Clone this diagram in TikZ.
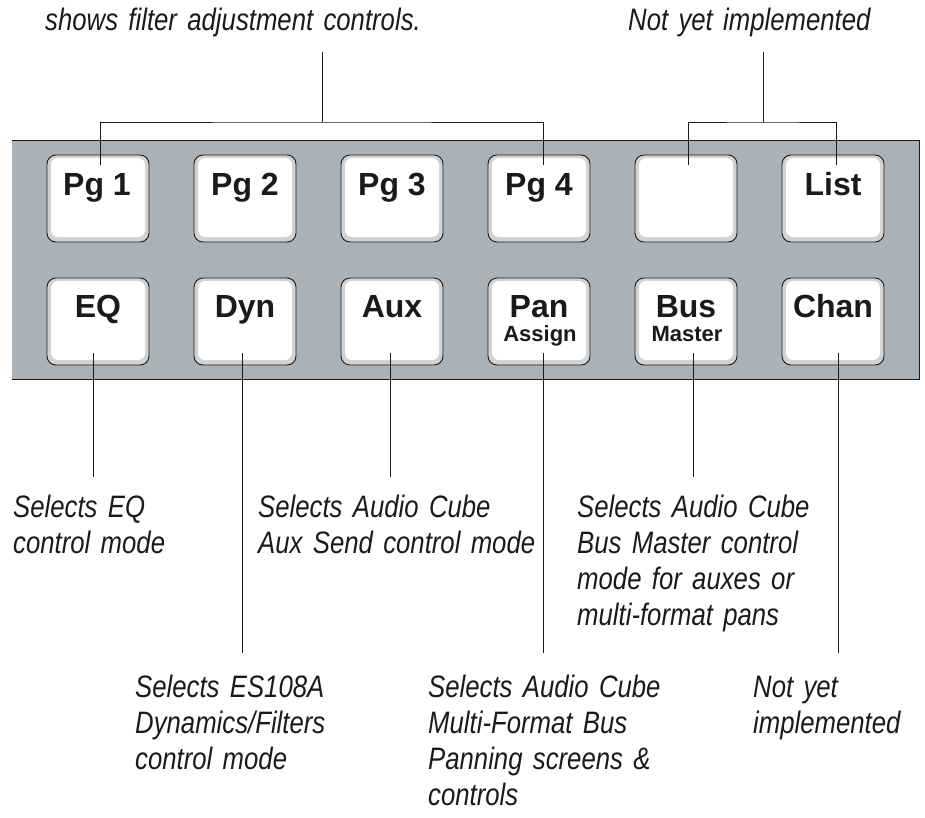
\documentclass[tikz,border=0pt]{standalone}
\usepackage{fontspec}
\setmainfont{Liberation Sans}
\newfontfamily\callfont[FakeStretch=0.83,WordSpace=0.85]{Liberation Sans}
\definecolor{panelgray}{HTML}{A9B1B9}
\definecolor{bevel}{HTML}{D2D2D2}
\definecolor{ink}{HTML}{1A1A1A}
\tikzset{
  btn/.style={draw=ink, line width=0.9pt, fill=bevel, rounded corners=9pt,
    minimum width=102pt, minimum height=87pt, inner sep=0pt,
    path picture={\fill[white, rounded corners=7pt]
      ([xshift=4pt,yshift=-3pt]path picture bounding box.north west) rectangle
      ([xshift=-4pt,yshift=5pt]path picture bounding box.south east);}},
  btntext/.style={anchor=base, inner sep=0pt, text=ink,
    font=\bfseries\fontsize{32}{32}\selectfont},
  btnsmall/.style={anchor=base, inner sep=0pt, text=ink,
    font=\bfseries\fontsize{22}{22}\selectfont},
  callout/.style={anchor=base west, inner sep=0pt, text=ink, align=left,
    text width=460pt, font=\callfont\itshape\fontsize{31}{36.2}\selectfont},
  lead/.style={draw=ink, line width=0.9pt}
}
\begin{document}
\begin{tikzpicture}[x=1pt,y=-1pt]
\useasboundingbox (0,0) rectangle (925,817);
% panel
\fill[panelgray] (12,140) rectangle (919,379);
\draw[draw=ink, line width=1pt] (12,140) -- (919,140) -- (919,379) -- (12,379);
% buttons row 1
\node[btn] (pg1) at (98,198.5) {};
\node[btn] (pg2) at (245,198.5) {};
\node[btn] (pg3) at (392,198.5) {};
\node[btn] (pg4) at (539,198.5) {};
\node[btn] (blank) at (686,198.5) {};
\node[btn] (list) at (833,198.5) {};
% buttons row 2
\node[btn] (eq) at (98,321.5) {};
\node[btn] (dyn) at (245,321.5) {};
\node[btn] (aux) at (392,321.5) {};
\node[btn] (pan) at (539,321.5) {};
\node[btn] (bus) at (686,321.5) {};
\node[btn] (chan) at (833,321.5) {};
% button labels
\node[btntext] (pg1t) at (97,195) {Pg 1};
\node[btntext] (pg2t) at (245,195) {Pg 2};
\node[btntext] (pg3t) at (392,195) {Pg 3};
\node[btntext] (pg4t) at (539,195) {Pg 4};
\node[btntext] (listt) at (833,195) {List};
\node[btntext] (eqt) at (98,317) {EQ};
\node[btntext] (dynt) at (245,317) {Dyn};
\node[btntext] (auxt) at (392,317) {Aux};
\node[btntext] (pant) at (539,317) {Pan};
\node[btnsmall] (assignt) at (540,341) {Assign};
\node[btntext] (bust) at (686,317) {Bus};
\node[btnsmall] (mastert) at (687,341) {Master};
\node[btntext] (chant) at (833,317) {Chan};
% top callouts
\node[callout] (toptxtL) at (45,30) {shows filter adjustment controls.};
\node[callout] (toptxtR) at (628,30) {Not yet implemented};
% bottom callouts
\node[callout] (eqtxt) at (13,517) {Selects EQ\\control mode};
\node[callout] (auxtxt) at (258,517) {Selects Audio Cube\\Aux Send control mode};
\node[callout] (bustxt) at (577,517) {Selects Audio Cube\\Bus Master control\\mode for auxes or\\multi-format pans};
\node[callout] (dyntxt) at (135,697) {Selects ES108A\\Dynamics/Filters\\control mode};
\node[callout] (pantxt) at (428,697) {Selects Audio Cube\\Multi-Format Bus\\Panning screens \&\\controls};
\node[callout] (chantxt) at (753,697) {Not yet\\implemented};
% top leaders
\coordinate (pg1pt) at (100,165);
\coordinate (pg4pt) at (543,165);
\coordinate (ljoin) at (322,122);
\coordinate (ltop) at (322,52);
\draw[lead] (pg1pt) |- (ljoin) -| (pg4pt);
\draw[lead] (ltop) -- (ljoin);
\coordinate (blankpt) at (688,165);
\coordinate (listpt) at (836,165);
\coordinate (rjoin) at (763,122);
\coordinate (rtop) at (763,52);
\draw[lead] (blankpt) |- (rjoin) -| (listpt);
\draw[lead] (rtop) -- (rjoin);
% bottom leaders
\coordinate (eqpt) at (93,353);   \coordinate (eqend) at (93,477);
\coordinate (dynpt) at (242,353); \coordinate (dynend) at (242,653);
\coordinate (auxpt) at (390,353); \coordinate (auxend) at (390,477);
\coordinate (panpt) at (543,353); \coordinate (panend) at (543,653);
\coordinate (buspt) at (693,353); \coordinate (busend) at (693,477);
\coordinate (chanpt) at (838,353); \coordinate (chanend) at (838,653);
\draw[lead] (eqpt) -- (eqend);
\draw[lead] (dynpt) -- (dynend);
\draw[lead] (auxpt) -- (auxend);
\draw[lead] (panpt) -- (panend);
\draw[lead] (buspt) -- (busend);
\draw[lead] (chanpt) -- (chanend);
\end{tikzpicture}
\end{document}
